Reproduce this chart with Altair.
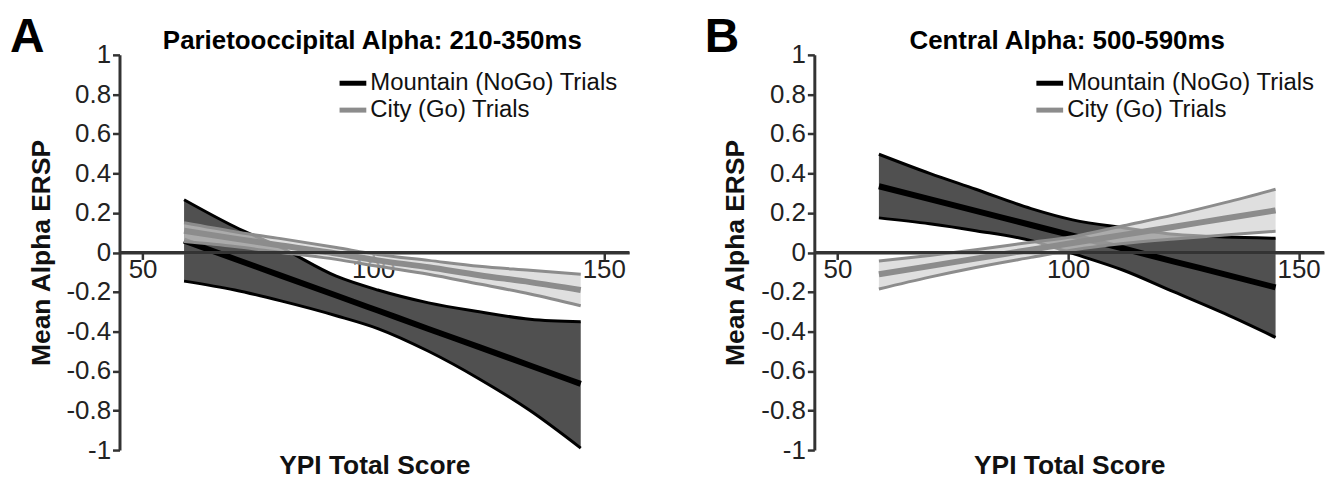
import altair as alt
import pandas as pd

# ---- data ----
x_vals = [59, 70, 80, 92, 101, 112, 123, 134, 145]

series_names = ["Mountain (NoGo) Trials", "City (Go) Trials"]

# Panel A: Parietooccipital Alpha 210-350ms
a_mtn_mean = [0.06, -0.033, -0.117, -0.218, -0.294, -0.387, -0.479, -0.572, -0.665]
a_mtn_hi = [0.267, 0.13, 0.025, -0.12, -0.19, -0.255, -0.30, -0.338, -0.351]
a_mtn_lo = [-0.145, -0.19, -0.245, -0.32, -0.385, -0.50, -0.64, -0.80, -0.99]
a_city_mean = [0.11, 0.07, 0.035, -0.005, -0.04, -0.075, -0.115, -0.15, -0.19]
a_city_hi = [0.15, 0.105, 0.07, 0.025, -0.01, -0.04, -0.07, -0.09, -0.11]
a_city_lo = [0.055, 0.03, 0.0, -0.035, -0.07, -0.11, -0.16, -0.21, -0.27]

# Panel B: Central Alpha 500-590ms
b_mtn_mean = [0.335, 0.27, 0.21, 0.139, 0.085, 0.02, -0.046, -0.111, -0.177]
b_mtn_hi = [0.497, 0.40, 0.32, 0.222, 0.165, 0.125, 0.092, 0.078, 0.072]
b_mtn_lo = [0.175, 0.145, 0.11, 0.06, -0.005, -0.09, -0.2, -0.31, -0.43]
b_city_mean = [-0.11, -0.069, -0.031, 0.014, 0.048, 0.089, 0.13, 0.172, 0.213]
b_city_hi = [-0.043, -0.015, 0.014, 0.052, 0.08, 0.135, 0.19, 0.252, 0.32]
b_city_lo = [-0.185, -0.125, -0.076, -0.025, 0.012, 0.045, 0.068, 0.088, 0.107]

panel_letters = ["A", "B"]
panel_titles = ["Parietooccipital Alpha: 210-350ms", "Central Alpha: 500-590ms"]

y_ticks = [1, 0.8, 0.6, 0.4, 0.2, 0, -0.2, -0.4, -0.6, -0.8, -1]
x_ticks = [50, 100, 150]
x_title = "YPI Total Score"
y_title = "Mean Alpha ERSP"

FONT = "Liberation Sans"
W, H = 512, 397


def build_df(mm, mh, ml, cm, ch, cl):
    rows = []
    for i, x in enumerate(x_vals):
        rows.append({"x": x, "series": series_names[0], "mean": mm[i], "hi": mh[i], "lo": ml[i]})
        rows.append({"x": x, "series": series_names[1], "mean": cm[i], "hi": ch[i], "lo": cl[i]})
    return pd.DataFrame(rows)


xscale = alt.Scale(domain=[45, 155.5], nice=False, zero=False)
yscale = alt.Scale(domain=[-1, 1], nice=False, zero=False)

x_axis = alt.Axis(
    title=x_title, values=x_ticks, format="d", offset=-H / 2,
    titleY=222, titleBaseline="alphabetic", labelPadding=-3,
)
y_axis = alt.Axis(
    title=y_title, values=y_ticks, labelExpr="toString(datum.value)", titlePadding=11,
)


def X():
    return alt.X("x:Q", scale=xscale, axis=x_axis)


def Yf(field):
    return alt.Y(f"{field}:Q", scale=yscale, axis=y_axis)


def panel(df, letter, title, legend_x):
    base = alt.Chart(df)
    mtn = base.transform_filter(alt.datum.series == series_names[0])
    city = base.transform_filter(alt.datum.series == series_names[1])

    color = alt.Color(
        "series:N",
        scale=alt.Scale(domain=series_names, range=["#000000", "#8c8c8c"]),
        legend=alt.Legend(
            orient="none", legendX=legend_x, legendY=14, title=None,
            symbolType="M-1.12,0H1.12", symbolStrokeWidth=5, symbolSize=576,
            labelFont=FONT, labelFontSize=24, labelColor="#111111",
            labelOffset=3, rowPadding=0, padding=0, labelLimit=0,
        ),
    )

    mtn_band = mtn.mark_area(color="#505050", interpolate="monotone", opacity=1).encode(
        x=X(), y=Yf("lo"), y2="hi:Q")
    mtn_lo = mtn.mark_line(color="#000000", strokeWidth=3, interpolate="monotone").encode(
        x=X(), y=Yf("lo"))
    mtn_hi = mtn.mark_line(color="#000000", strokeWidth=3, interpolate="monotone").encode(
        x=X(), y=Yf("hi"))
    mtn_mean = mtn.mark_line(strokeWidth=6, interpolate="monotone").encode(
        x=X(), y=Yf("mean"), color=color)

    city_band = city.mark_area(color="#d2d2d2", interpolate="monotone", opacity=0.7).encode(
        x=X(), y=Yf("lo"), y2="hi:Q")
    city_lo = city.mark_line(color="#8c8c8c", strokeWidth=3, interpolate="monotone").encode(
        x=X(), y=Yf("lo"))
    city_hi = city.mark_line(color="#8c8c8c", strokeWidth=3, interpolate="monotone").encode(
        x=X(), y=Yf("hi"))
    city_mean = city.mark_line(strokeWidth=6, interpolate="monotone").encode(
        x=X(), y=Yf("mean"), color=color)

    zero = alt.Chart(pd.DataFrame({"z": [0]})).mark_rule(color="#333333", strokeWidth=3).encode(
        y=alt.Y("z:Q", scale=yscale, axis=y_axis))

    letter_txt = alt.Chart(pd.DataFrame({"t": [letter]})).mark_text(
        font=FONT, fontSize=48, fontWeight="bold", align="left", baseline="alphabetic",
        color="#000000").encode(text="t:N", x=alt.value(-110), y=alt.value(-3))
    title_txt = alt.Chart(pd.DataFrame({"t": [title]})).mark_text(
        font=FONT, fontSize=26, fontWeight="bold", align="center", baseline="alphabetic",
        color="#000000").encode(text="t:N", x=alt.value(W / 2 - 2), y=alt.value(-6))

    return alt.layer(
        mtn_band, mtn_lo, mtn_hi, mtn_mean,
        city_band, city_lo, city_hi, city_mean,
        zero, letter_txt, title_txt,
    ).properties(width=W, height=H)


df_a = build_df(a_mtn_mean, a_mtn_hi, a_mtn_lo, a_city_mean, a_city_hi, a_city_lo)
df_b = build_df(b_mtn_mean, b_mtn_hi, b_mtn_lo, b_city_mean, b_city_hi, b_city_lo)

pa = panel(df_a, panel_letters[0], panel_titles[0], 220)
pb = panel(df_b, panel_letters[1], panel_titles[1], 222)

chart = alt.hconcat(pa, pb, spacing=74).resolve_legend(color="independent").properties(
    padding={"left": 2, "top": 5, "right": 0, "bottom": 0}
).configure_view(stroke=None).configure_axis(
    grid=False, domainColor="#333333", domainWidth=3, tickColor="#333333",
    tickWidth=2.5, tickSize=7, labelFont=FONT, labelFontSize=26, labelColor="#222222",
    titleFont=FONT, titleFontSize=26.5, titleFontWeight="bold", titleColor="#111111",
    labelFlush=False, labelOverlap=False,
)

chart.save("out.html", embed_options={"renderer": "svg", "actions": False})
